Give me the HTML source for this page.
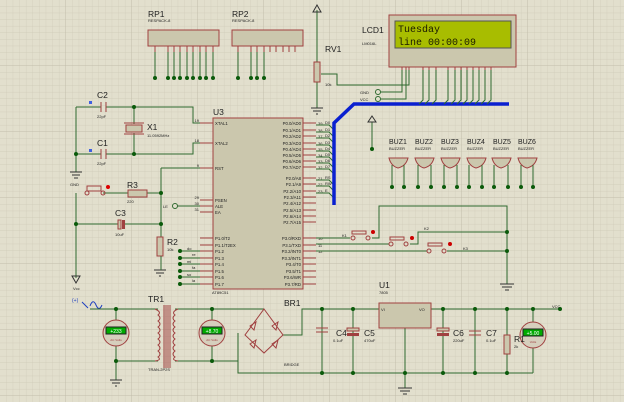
<!DOCTYPE html>
<html><head><meta charset="utf-8"><style>
html,body{margin:0;padding:0;width:624px;height:402px;overflow:hidden;background:#e2dfcd}
svg{display:block}
text{font-family:"Liberation Sans",sans-serif;fill:#222}
.w{stroke:#2f6a2f;stroke-width:1;fill:none}
.p{stroke:#a04040;stroke-width:1;fill:none}
.b{fill:#cbc7ad;stroke:#a04040;stroke-width:1}
.s{font-size:4px}
.l{font-size:8.5px}
</style></head><body>
<svg width="624" height="402" viewBox="0 0 624 402" xmlns="http://www.w3.org/2000/svg">
<defs>
<pattern id="g" width="6.6" height="6.6" patternUnits="userSpaceOnUse"><path d="M6.6 0V6.6H0" fill="none" stroke="#cdc9b6" stroke-width="0.6"/></pattern>
<pattern id="G" width="66" height="66" patternUnits="userSpaceOnUse"><path d="M66 0V66H0" fill="none" stroke="#bdb9a6" stroke-width="0.8"/></pattern>
</defs>
<rect width="624" height="402" fill="url(#g)"/>
<rect width="624" height="402" fill="url(#G)"/>

<!-- RP1 / RP2 -->
<text x="148" y="17" class="l">RP1</text><text x="148" y="22" class="s">RESPACK-8</text>
<rect x="148" y="30" width="71" height="16" class="b"/>
<g class="w"><path d="M155 52V78M168 52V78M174 52V78M180 52V78M187 52V78M193 52V78M200 52V78M206 52V78M213 52V78"/></g>
<g class="p"><path d="M155 46V52M168 46V52M174 46V52M180 46V52M187 46V52M193 46V52M200 46V52M206 46V52M213 46V52"/></g>
<g fill="#0a5a0a"><circle cx="155" cy="78" r="2"/><circle cx="168" cy="78" r="2"/><circle cx="174" cy="78" r="2"/><circle cx="180" cy="78" r="2"/><circle cx="187" cy="78" r="2"/><circle cx="193" cy="78" r="2"/><circle cx="200" cy="78" r="2"/><circle cx="206" cy="78" r="2"/><circle cx="213" cy="78" r="2"/></g>
<text x="232" y="17" class="l">RP2</text><text x="232" y="22" class="s">RESPACK-8</text>
<rect x="232" y="30" width="71" height="16" class="b"/>
<g class="w"><path d="M238 52V78M251 52V78M257 52V78M264 52V78"/></g>
<g class="p"><path d="M238 46V52M251 46V52M257 46V52M264 46V52M270 46V52M276 46V52M283 46V52M289 46V52M295 46V52"/></g>
<g fill="#0a5a0a"><circle cx="238" cy="78" r="2"/><circle cx="251" cy="78" r="2"/><circle cx="257" cy="78" r="2"/><circle cx="264" cy="78" r="2"/></g>

<!-- crystal section -->
<g class="w"><path d="M76 107H101M106 107H193V123H200M76 107V172M76 154H101M106 154H193V143H200M134 107V124M134 133V154M161 168H200M161 168V256M76 193V278M76 224H118M125 224H161M103 193H128M147 193H161"/></g>
<g class="p" stroke-width="1.3"><path d="M101 102V112M106 102V112M101 149V159M106 149V159"/></g>
<rect x="126" y="125" width="16" height="7" class="b"/>
<path d="M124 123H144M124 134H144" stroke="#a04040"/>
<circle cx="134" cy="107" r="2" fill="#0a5a0a"/><circle cx="134" cy="154" r="2" fill="#0a5a0a"/><circle cx="76" cy="154" r="2" fill="#0a5a0a"/><circle cx="161" cy="193" r="2" fill="#0a5a0a"/><circle cx="161" cy="224" r="2" fill="#0a5a0a"/><circle cx="76" cy="224" r="2" fill="#0a5a0a"/>
<rect x="89" y="101" width="3" height="3" fill="#4060e0"/><rect x="89" y="149" width="3" height="3" fill="#4060e0"/>
<text x="97" y="98" class="l">C2</text><text x="97" y="118" class="s">22pF</text>
<text x="97" y="146" class="l">C1</text><text x="97" y="165" class="s">22pF</text>
<text x="147" y="130" class="l">X1</text><text x="147" y="137" class="s">11.0592MHz</text>
<path d="M70 172H82M72 175H80M74 178H78" stroke="#333"/>
<text x="70" y="186" class="s">GND</text>
<rect x="87" y="186" width="14" height="5" fill="none" stroke="#a04040"/><circle cx="87" cy="193" r="2" fill="none" stroke="#a04040"/><circle cx="103" cy="193" r="2" fill="none" stroke="#a04040"/>
<circle cx="108" cy="187" r="2" fill="#d00"/>
<rect x="128" y="190" width="19" height="7" class="b"/>
<text x="127" y="188" class="l">R3</text><text x="127" y="203" class="s">220</text>
<rect x="118" y="220" width="3" height="9" fill="#cbc7ad" stroke="#a04040"/><rect x="122" y="220" width="3" height="9" fill="#a04040"/>
<text x="115" y="216" class="l">C3</text><text x="115" y="236" class="s">10uF</text>
<rect x="157" y="237" width="6" height="19" class="b"/>
<text x="167" y="245" class="l">R2</text><text x="167" y="251" class="s">10k</text>
<path d="M154 270H166M156 273H164M159 276H161" stroke="#333"/><path d="M161 256V270" class="w"/>
<path d="M72 276H80L76 283Z" fill="none" stroke="#333"/><text x="73" y="290" class="s">Vcc</text>

<!-- U3 -->
<rect x="213" y="118" width="90" height="171" class="b"/>
<text x="213" y="115" class="l">U3</text><text x="212" y="294" class="s">AT89C51</text>
<g class="p"><path d="M200 123H213M200 143H213M200 168H213M200 200H213M200 206H213M200 212H213M200 238H213M200 245H213M200 251H213M200 258H213M200 264H213M200 271H213M200 277H213M200 284H213"/>
<path d="M303 123H316M303 130H316M303 136H316M303 143H316M303 149H316M303 155H316M303 161H316M303 167H316M303 178H316M303 184H316M303 191H316M303 197H316M303 203H316M303 210H316M303 216H316M303 222H316M303 238H316M303 245H316M303 251H316M303 258H316M303 264H316M303 271H316M303 277H316M303 284H316"/></g>
<g style="font-size:4.3px">
<text x="215" y="125">XTAL1</text><text x="215" y="145">XTAL2</text><text x="215" y="170">RST</text>
<text x="215" y="202">PSEN</text><text x="215" y="208">ALE</text><text x="215" y="214">EA</text>
<text x="215" y="240">P1.0/T2</text><text x="215" y="247">P1.1/T2EX</text><text x="215" y="253">P1.2</text><text x="215" y="260">P1.3</text><text x="215" y="266">P1.4</text><text x="215" y="273">P1.5</text><text x="215" y="279">P1.6</text><text x="215" y="286">P1.7</text>
</g>
<g style="font-size:4.3px" text-anchor="end">
<text x="301" y="125">P0.0/AD0</text><text x="301" y="132">P0.1/AD1</text><text x="301" y="138">P0.2/AD2</text><text x="301" y="145">P0.3/AD3</text><text x="301" y="151">P0.4/AD4</text><text x="301" y="157">P0.5/AD5</text><text x="301" y="163">P0.6/AD6</text><text x="301" y="169">P0.7/AD7</text>
<text x="301" y="180">P2.0/A8</text><text x="301" y="186">P2.1/A9</text><text x="301" y="193">P2.2/A10</text><text x="301" y="199">P2.3/A11</text><text x="301" y="205">P2.4/A12</text><text x="301" y="212">P2.5/A13</text><text x="301" y="218">P2.6/A14</text><text x="301" y="224">P2.7/A15</text>
<text x="301" y="240">P3.0/RXD</text><text x="301" y="247">P3.1/TXD</text><text x="301" y="253">P3.2/INT0</text><text x="301" y="260">P3.3/INT1</text><text x="301" y="266">P3.4/T0</text><text x="301" y="273">P3.5/T1</text><text x="301" y="279">P3.6/WR</text><text x="301" y="286">P3.7/RD</text>
</g>
<g style="font-size:4px"><text x="199" y="122" text-anchor="end">19</text><text x="199" y="142" text-anchor="end">18</text><text x="199" y="167" text-anchor="end">9</text><text x="199" y="199" text-anchor="end">29</text><text x="199" y="205" text-anchor="end">30</text><text x="199" y="211" text-anchor="end">31</text></g>
<g style="font-size:4px"><text x="318" y="125">39</text><text x="318" y="132">38</text><text x="318" y="138">37</text><text x="318" y="145">36</text><text x="318" y="151">35</text><text x="318" y="157">34</text><text x="318" y="163">33</text><text x="318" y="169">32</text><text x="318" y="180">21</text><text x="318" y="186">22</text><text x="318" y="193">23</text><text x="318" y="240">10</text><text x="318" y="247">11</text><text x="318" y="253">12</text></g>
<g style="font-size:4px"><text x="325" y="124">D0</text><text x="325" y="131">D1</text><text x="325" y="137">D2</text><text x="325" y="144">D3</text><text x="325" y="150">D4</text><text x="325" y="156">D5</text><text x="325" y="162">D6</text><text x="325" y="168">D7</text><text x="325" y="179">RS</text><text x="325" y="185">RW</text><text x="325" y="192">E</text></g>
<g class="w"><path d="M316 125H329L334 130M316 132H329L334 137M316 138H329L334 143M316 145H329L334 150M316 151H329L334 156M316 157H329L334 162M316 163H329L334 168M316 169H329L334 174M316 180H329L334 185M316 186H329L334 191M316 193H329L334 198"/></g>
<!-- P1 dots -->
<g class="w"><path d="M180 251H200M180 258H200M180 264H200M180 271H200M180 277H200M180 284H200M175 206H200"/></g>
<g fill="#0a5a0a"><circle cx="180" cy="251" r="2"/><circle cx="180" cy="258" r="2"/><circle cx="180" cy="264" r="2"/><circle cx="180" cy="271" r="2"/><circle cx="180" cy="277" r="2"/><circle cx="180" cy="284" r="2"/></g>
<g style="font-size:4px"><text x="187" y="250">do</text><text x="192" y="256">re</text><text x="187" y="263">mi</text><text x="192" y="269">fa</text><text x="187" y="276">so</text><text x="192" y="282">la</text></g>
<circle cx="175" cy="206" r="2.5" fill="#e2dfcd" stroke="#2f6a2f"/><text x="163" y="208" class="s">LE</text>

<!-- bus -->
<path d="M334 205V123L354 104H509" stroke="#0a20d0" stroke-width="3.5" fill="none"/>

<!-- RV1 -->
<path d="M317 10V62M317 82V108" class="w"/>
<path d="M313 12H321L317 5Z" fill="none" stroke="#333"/>
<rect x="314" y="62" width="6" height="20" class="b"/>
<text x="325" y="52" class="l">RV1</text><text x="325" y="86" class="s">10k</text>
<path d="M311 108H323M313 111H321M316 114H318" stroke="#333"/>
<g class="w"><path d="M321 74H337V85H409V70M381 92H402V70M381 99H406V70"/></g>
<circle cx="378" cy="92" r="2.5" fill="#e2dfcd" stroke="#2f6a2f"/><circle cx="378" cy="99" r="2.5" fill="#e2dfcd" stroke="#2f6a2f"/>
<text x="360" y="94" class="s">GND</text><text x="360" y="101" class="s">VCC</text>
<g class="w"><path d="M423 70V100L419 104M429 70V100L425 104M436 70V100L432 104M448 70V100L444 104M455 70V100L451 104M461 70V100L457 104M467 70V100L463 104M473 70V100L469 104M479 70V100L475 104M485 70V100L481 104M491 70V100L487 104"/></g>
<g class="p"><path d="M402 67V70M406 67V70M409 67V70M423 67V70M429 67V70M436 67V70M448 67V70M455 67V70M461 67V70M467 67V70M473 67V70M479 67V70M485 67V70M491 67V70"/></g>

<!-- LCD -->
<rect x="389" y="15" width="127" height="52" fill="#cbc7ad" stroke="#a04040"/>
<rect x="395" y="21" width="116" height="27" fill="#a8bd00" stroke="#555"/>
<text x="398" y="32" style="font-family:'Liberation Mono',monospace;font-size:10px;fill:#1a1a00">Tuesday</text>
<text x="398" y="45" style="font-family:'Liberation Mono',monospace;font-size:10px;fill:#1a1a00">line 00:00:09</text>
<text x="362" y="33" class="l">LCD1</text><text x="362" y="45" class="s">LM016L</text>

<!-- VCC + buzzers -->
<path d="M372 122V149" class="w"/><path d="M368 122H376L372 116Z" fill="none" stroke="#333"/><circle cx="372" cy="149" r="2" fill="#0a5a0a"/>
<g class="l" style="font-size:7px"><text x="389" y="144">BUZ1</text><text x="415" y="144">BUZ2</text><text x="441" y="144">BUZ3</text><text x="467" y="144">BUZ4</text><text x="493" y="144">BUZ5</text><text x="518" y="144">BUZ6</text></g>
<g class="s"><text x="389" y="150">BUZZER</text><text x="415" y="150">BUZZER</text><text x="441" y="150">BUZZER</text><text x="467" y="150">BUZZER</text><text x="493" y="150">BUZZER</text><text x="518" y="150">BUZZER</text></g>
<g class="b">
<path d="M389 158H408Q406 166 398 168Q391 166 389 158Z"/><path d="M415 158H434Q432 166 424 168Q417 166 415 158Z"/><path d="M441 158H460Q458 166 450 168Q443 166 441 158Z"/><path d="M467 158H486Q484 166 476 168Q469 166 467 158Z"/><path d="M492 158H511Q509 166 501 168Q494 166 492 158Z"/><path d="M518 158H537Q535 166 527 168Q520 166 518 158Z"/>
</g>
<g class="w"><path d="M392 165V187M404 165V187M418 165V187M431 165V187M444 165V187M457 165V187M469 165V187M482 165V187M494 165V187M508 165V187M521 165V187M533 165V187"/></g>
<g fill="#0a5a0a"><circle cx="392" cy="187" r="2"/><circle cx="404" cy="187" r="2"/><circle cx="418" cy="187" r="2"/><circle cx="431" cy="187" r="2"/><circle cx="444" cy="187" r="2"/><circle cx="457" cy="187" r="2"/><circle cx="469" cy="187" r="2"/><circle cx="482" cy="187" r="2"/><circle cx="494" cy="187" r="2"/><circle cx="508" cy="187" r="2"/><circle cx="521" cy="187" r="2"/><circle cx="533" cy="187" r="2"/></g>

<!-- switches -->
<g class="w"><path d="M316 238H350M372 238H379V206H507V284M316 244H389M410 244H418V232H507M316 251H427M447 251H507"/></g>
<g fill="none" stroke="#a04040"><rect x="352" y="231" width="14" height="3"/><circle cx="353" cy="238" r="2"/><circle cx="368" cy="238" r="2"/><rect x="390" y="237" width="14" height="3"/><circle cx="391" cy="244" r="2"/><circle cx="406" cy="244" r="2"/><rect x="428" y="243" width="14" height="3"/><circle cx="429" cy="251" r="2"/><circle cx="444" cy="251" r="2"/></g>
<circle cx="373" cy="232" r="2" fill="#c00"/><circle cx="412" cy="238" r="2" fill="#c00"/><circle cx="450" cy="244" r="2" fill="#c00"/>
<circle cx="507" cy="232" r="2" fill="#0a5a0a"/><circle cx="507" cy="251" r="2" fill="#0a5a0a"/>
<text x="424" y="230" class="s">K2</text><text x="463" y="250" class="s">K3</text><text x="342" y="237" class="s">K1</text>
<path d="M500 284H514M502 287H512M505 290H509" stroke="#333"/>

<!-- power -->
<text x="72" y="302" style="font-size:5px;fill:#2040c0">(+)</text>
<path d="M82 302L88 308M90 306Q93 298 96 305T102 305" stroke="#2040c0" fill="none"/>
<g class="w"><path d="M90 309H158M116 309V320M116 346V380M116 361H158M175 309H264M212 309V320M212 346V361M175 361H238M238 333V373H533M283 335H302V309H560M322 309V373M353 309V373M405 328V388M443 309V373M475 309V373M507 309V335M507 354V373M533 309V322M533 348V373"/></g>
<g fill="#0a5a0a"><circle cx="116" cy="309" r="2"/><circle cx="116" cy="361" r="2"/><circle cx="212" cy="309" r="2"/><circle cx="212" cy="361" r="2"/><circle cx="322" cy="309" r="2"/><circle cx="353" cy="309" r="2"/><circle cx="443" cy="309" r="2"/><circle cx="475" cy="309" r="2"/><circle cx="507" cy="309" r="2"/><circle cx="533" cy="309" r="2"/><circle cx="560" cy="309" r="2"/><circle cx="322" cy="373" r="2"/><circle cx="353" cy="373" r="2"/><circle cx="405" cy="373" r="2"/><circle cx="443" cy="373" r="2"/><circle cx="475" cy="373" r="2"/><circle cx="507" cy="373" r="2"/></g>
<path d="M110 380H122M112 383H120M115 386H117" stroke="#333"/>
<path d="M398 388H412M400 391H410M403 394H407" stroke="#333"/>
<g>
<circle cx="116" cy="333" r="13" fill="#d6cfbd" stroke="#a04040"/><rect x="106" y="327" width="20" height="7" fill="#0a0" stroke="#222"/><text x="116" y="333" text-anchor="middle" style="font-size:5px;fill:#fff">+233</text><text x="116" y="341" text-anchor="middle" style="font-size:3px;fill:#a04040">AC Volts</text>
<circle cx="212" cy="333" r="13" fill="#d6cfbd" stroke="#a04040"/><rect x="202" y="327" width="20" height="7" fill="#0a0" stroke="#222"/><text x="212" y="333" text-anchor="middle" style="font-size:5px;fill:#fff">+8.70</text><text x="212" y="341" text-anchor="middle" style="font-size:3px;fill:#a04040">AC Volts</text>
<circle cx="533" cy="335" r="13" fill="#d6cfbd" stroke="#a04040"/><rect x="523" y="329" width="20" height="7" fill="#0a0" stroke="#222"/><text x="533" y="335" text-anchor="middle" style="font-size:5px;fill:#fff">+5.00</text><text x="533" y="343" text-anchor="middle" style="font-size:3px;fill:#a04040">Volts</text>
</g>
<g class="p"><path d="M155 309Q162 312 158 315Q162 318 158 321Q162 324 158 327Q162 330 158 333Q162 336 158 339Q162 342 158 345Q162 348 158 351Q162 354 158 357Q162 360 155 361"/>
<path d="M178 309Q171 312 175 315Q171 318 175 321Q171 324 175 327Q171 330 175 333Q171 336 175 339Q171 342 175 345Q171 348 175 351Q171 354 175 357Q171 360 178 361"/>
<path d="M164 305V368M166 305V368M168 305V368M170 305V368"/></g>
<text x="148" y="302" class="l">TR1</text><text x="148" y="371" class="s">TRAN-2P2S</text>
<path d="M264 309L283 335L264 353L245 335Z" fill="none" stroke="#a04040"/>
<g fill="none" stroke="#a04040"><path d="M250 326L256 322L254 330ZM272 326L278 322L276 330ZM250 344L256 340L254 348ZM272 344L278 340L276 348Z"/></g>
<text x="284" y="306" class="l">BR1</text><text x="284" y="366" class="s">BRIDGE</text>
<path d="M316 328H328M316 332H328" stroke="#a04040"/>
<rect x="347" y="328" width="12" height="3" class="b"/><rect x="347" y="333" width="12" height="3" fill="#a04040"/>
<rect x="437" y="328" width="12" height="3" class="b"/><rect x="437" y="333" width="12" height="3" fill="#a04040"/>
<path d="M469 331H481M469 335H481" stroke="#a04040"/>
<text x="336" y="336" class="l">C4</text><text x="333" y="342" class="s">0.1uF</text>
<text x="364" y="336" class="l">C5</text><text x="364" y="342" class="s">470uF</text>
<text x="453" y="336" class="l">C6</text><text x="453" y="342" class="s">220uF</text>
<text x="486" y="336" class="l">C7</text><text x="486" y="342" class="s">0.1uF</text>
<rect x="379" y="303" width="52" height="25" class="b"/>
<text x="379" y="288" class="l">U1</text><text x="379" y="294" class="s">7805</text>
<text x="381" y="311" class="s">VI</text><text x="419" y="311" class="s">VO</text>
<rect x="504" y="335" width="6" height="19" class="b"/>
<text x="514" y="342" class="l">R1</text><text x="514" y="348" class="s">2k</text>
<text x="552" y="308" class="s">VCC</text>
</svg>
</body></html>
